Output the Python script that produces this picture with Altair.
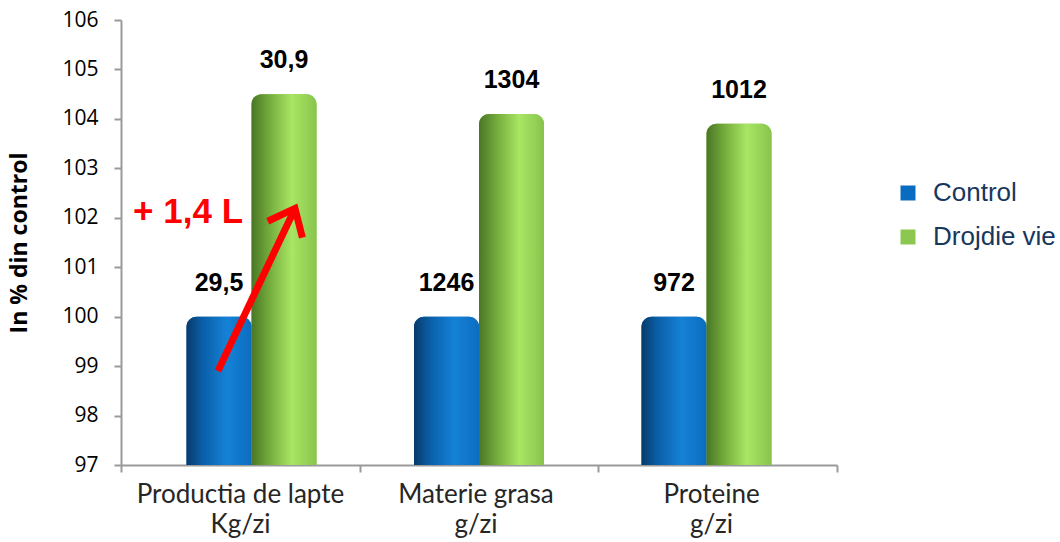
import altair as alt
import pandas as pd

# ---- data ----
categories = ["Productia de lapte|Kg/zi", "Materie grasa|g/zi", "Proteine|g/zi"]
series_names = ["Control", "Drojdie vie"]
control_values = [100.0, 100.0, 100.0]
yeast_values = [104.5, 104.1, 103.9]
control_labels = ["29,5", "1246", "972"]
yeast_labels = ["30,9", "1304", "1012"]

# annotation (arrow + text) in plot units: x over [0, 3] category span, y in %
arrow_x = [0.406, 0.729]
arrow_y = [98.9, 102.19]
note_text = ["+ 1,4 L"]
note_x = [0.281]
note_y = [101.89]
boundary_ticks = [0, 1, 2, 3]

rows = []
for c, cv, yv, cl, yl in zip(categories, control_values, yeast_values, control_labels, yeast_labels):
    rows.append({"cat": c, "series": series_names[0], "value": cv, "label": cl})
    rows.append({"cat": c, "series": series_names[1], "value": yv, "label": yl})
df = pd.DataFrame(rows)

arrow_df = pd.DataFrame({"x": [arrow_x[0]], "x2": [arrow_x[1]], "value": [arrow_y[0]], "value2": [arrow_y[1]]})
head_df = pd.DataFrame({"x": [arrow_x[1]], "value": [arrow_y[1]]})
note_df = pd.DataFrame({"x": note_x, "value": note_y, "t": note_text})

blue = "#0A6CC0"
green = "#8CC850"
axis_gray = "#9A9A9A"

blue_grad = alt.LinearGradient(
    gradient="linear", x1=0, x2=1, y1=0, y2=0,
    stops=[
        alt.GradientStop(color="#083A6A", offset=0),
        alt.GradientStop(color="#0A5FA8", offset=0.25),
        alt.GradientStop(color="#1582D6", offset=0.62),
        alt.GradientStop(color="#0C6DC0", offset=1),
    ],
)
green_grad = alt.LinearGradient(
    gradient="linear", x1=0, x2=1, y1=0, y2=0,
    stops=[
        alt.GradientStop(color="#4A7626", offset=0),
        alt.GradientStop(color="#78B03E", offset=0.3),
        alt.GradientStop(color="#A8E664", offset=0.62),
        alt.GradientStop(color="#88C44C", offset=1),
    ],
)

label_shift = (
    f"datum.value == '{categories[0]}' ? -11 : "
    f"(datum.value == '{categories[2]}' ? 5 : -3)"
)

x_enc = alt.X(
    "cat:N",
    sort=categories,
    scale=alt.Scale(paddingInner=0, paddingOuter=0.0736),
    axis=alt.Axis(
        title=None,
        labelAngle=0,
        labelExpr="split(datum.label, '|')",
        labelFont="Lato",
        labelFontSize=26,
        labelColor="#262626",
        labelLineHeight=30,
        labelPadding=16,
        labelLimit=400,
        labelOffset={"expr": label_shift},
        ticks=False,
        tickSize=0,
        domain=False,
    ),
)
xoff_enc = alt.XOffset("series:N", sort=series_names, scale=alt.Scale(paddingInner=0, paddingOuter=0.75))
y_axis = alt.Axis(
    title="In % din control",
    titleFont="Open Sans",
    titleFontSize=23,
    titleFontWeight="bold",
    titleColor="#000000",
    titlePadding=30,
    values=list(range(97, 107)),
    labelFont="Open Sans",
    labelFontSize=21,
    labelColor="#000000",
    labelPadding=16,
    tickSize=7,
    tickColor=axis_gray,
    tickWidth=2,
    domainColor=axis_gray,
    domainWidth=2,
    grid=False,
)
y_scale = alt.Scale(domain=[97, 106], nice=False, zero=False)
y_enc = alt.Y("value:Q", scale=y_scale, axis=y_axis)

base = alt.Chart(df).encode(x=x_enc, xOffset=xoff_enc, y=y_enc)

legend_bars = base.mark_bar(cornerRadiusTopLeft=10, cornerRadiusTopRight=10).encode(
    y2=alt.datum(97),
    color=alt.Color(
        "series:N",
        sort=series_names,
        scale=alt.Scale(domain=series_names, range=[blue, green]),
        legend=alt.Legend(
            title=None,
            orient="none",
            legendX=774,
            legendY=160,
            symbolType="square",
            symbolSize=225,
            symbolStrokeWidth=0,
            symbolOpacity=1,
            labelFont="Liberation Sans",
            labelFontSize=26,
            labelColor="#17375E",
            labelOffset=12,
            labelLimit=300,
            rowPadding=18,
            padding=0,
        ),
    ),
)

blue_bars = base.transform_filter(alt.datum.series == "Control").mark_bar(
    fill=blue_grad, cornerRadiusTopLeft=10, cornerRadiusTopRight=10
).encode(y2=alt.datum(97))
green_bars = base.transform_filter(alt.datum.series == "Drojdie vie").mark_bar(
    fill=green_grad, cornerRadiusTopLeft=10, cornerRadiusTopRight=10
).encode(y2=alt.datum(97))

labels = base.mark_text(
    dy=-26, baseline="alphabetic", align="center",
    font="Liberation Sans", fontSize=25, fontWeight="bold", color="#000000",
).encode(text="label:N")

main = alt.layer(legend_bars, blue_bars, green_bars, labels)

ax = alt.X(
    "x:Q",
    scale=alt.Scale(domain=[0, 3], nice=False, zero=False),
    axis=alt.Axis(
        orient="bottom",
        title=None,
        values=boundary_ticks,
        labels=False,
        grid=False,
        tickSize=7,
        tickColor=axis_gray,
        tickWidth=2,
        domainColor=axis_gray,
        domainWidth=2,
    ),
)

arrow = alt.Chart(arrow_df).mark_rule(color="#FF0000", strokeWidth=7, strokeCap="butt").encode(
    x=ax, x2="x2:Q", y=y_enc, y2="value2:Q"
)
head = alt.Chart(head_df).mark_point(
    shape="M-0.7,0.85L0,0L0.7,0.85",
    filled=False,
    stroke="#FF0000",
    strokeWidth=7,
    strokeJoin="miter",
    strokeCap="butt",
    size=3000,
    angle=25.3,
    opacity=1,
).encode(x=ax, y=y_enc)
note = alt.Chart(note_df).mark_text(
    font="Liberation Sans", fontSize=35, fontWeight="bold", color="#FF0000",
    align="center", baseline="alphabetic",
).encode(x=ax, y=y_enc, text="t:N")

annot = alt.layer(arrow, head, note)

chart = (
    alt.layer(main, annot)
    .resolve_scale(x="independent")
    .properties(
        width=716,
        height=445,
        autosize=alt.AutoSizeParams(type="none"),
        padding={"left": 113, "top": 12, "right": 223, "bottom": 77},
        background="white",
    )
    .configure_view(stroke=None)
)

chart.save("out.html", embed_options={"renderer": "svg", "actions": False})

# the SVG reaches the window's right and bottom edges: drop those margins, no scrollbars
with open("out.html", encoding="utf-8") as f:
    html = f.read()
html = html.replace(
    "</head>",
    "<style>html,body{overflow:hidden;} body{margin:8px 0 0 8px;}</style></head>",
    1,
)
with open("out.html", "w", encoding="utf-8") as f:
    f.write(html)
